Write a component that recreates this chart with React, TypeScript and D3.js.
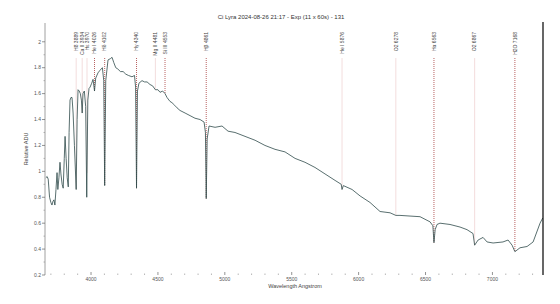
import React from "react";
import * as d3 from "d3";

const title = "Ci Lyra  2024-08-26 21:17  -  Exp (11 x 60s)  -  131";
const xAxisLabel = "Wavelength Angstrom";
const yAxisLabel = "Relative ADU";

const wavelengths = [
  3662, 3672, 3680, 3690, 3700, 3708, 3716, 3723, 3730, 3738, 3746, 3752, 3760, 3768, 3775, 3784,
  3792, 3800, 3806, 3814, 3822, 3830, 3836, 3843, 3850, 3858, 3866, 3876, 3889, 3896, 3903, 3912,
  3920, 3928, 3934, 3940, 3950, 3960, 3968, 3976, 3985, 3993, 4005, 4015, 4026, 4035, 4052, 4067,
  4085, 4095, 4102, 4110, 4127, 4145, 4157, 4170, 4185, 4200, 4220, 4240, 4260, 4280, 4306, 4325,
  4333, 4340, 4347, 4358, 4381, 4400, 4419, 4441, 4460, 4481, 4500, 4516, 4535, 4553, 4568, 4590,
  4605, 4625, 4643, 4665, 4703, 4740, 4777, 4815, 4845, 4855, 4861, 4868, 4882, 4927, 4979, 5024,
  5076, 5151, 5226, 5300, 5375, 5450, 5525, 5599, 5674, 5749, 5824, 5870, 5876, 5886, 5951, 6011,
  6085, 6160, 6235, 6278, 6309, 6384, 6459, 6534, 6555, 6563, 6572, 6586, 6608, 6683, 6758, 6810,
  6855, 6867, 6893, 6930, 6960, 7005, 7079, 7117, 7147, 7168, 7206, 7259, 7304, 7356, 7376,
];
const flux = [
  0.95, 0.96, 0.94, 0.8, 0.76, 0.74, 0.77, 0.78, 0.74, 0.86, 0.99, 0.86, 0.95, 1.07, 0.98, 0.9,
  0.87, 1.1, 1.27, 1.1, 0.95, 0.88, 1.3, 1.55, 1.57, 1.57, 1.45, 1.2, 0.86, 1.4, 1.63, 1.62,
  1.6, 1.55, 1.45, 1.6, 1.62, 1.5, 0.8, 1.55, 1.64, 1.65, 1.68, 1.71, 1.62, 1.72, 1.76, 1.78,
  1.8, 1.7, 0.89, 1.7, 1.86, 1.87, 1.88, 1.84, 1.8, 1.79, 1.77, 1.77, 1.75, 1.74, 1.73, 1.74,
  1.65, 0.87, 1.62, 1.68, 1.7, 1.69, 1.69, 1.67, 1.66, 1.63, 1.63, 1.61, 1.62, 1.6, 1.57, 1.54,
  1.53, 1.51, 1.49, 1.47, 1.45, 1.43, 1.41, 1.4, 1.38, 1.3, 0.79, 1.25, 1.35, 1.34, 1.35, 1.31,
  1.3, 1.27, 1.24, 1.2, 1.17, 1.15, 1.1, 1.07, 1.03, 0.98, 0.93, 0.9, 0.86, 0.89, 0.86, 0.81,
  0.76, 0.69, 0.68, 0.66, 0.66, 0.655, 0.65, 0.61, 0.58, 0.45, 0.55, 0.59, 0.6, 0.59, 0.57, 0.55,
  0.52, 0.43, 0.47, 0.49, 0.455, 0.447, 0.455, 0.47, 0.43, 0.38, 0.41, 0.42, 0.455, 0.6, 0.64,
];

const lineWavelengths = [3889, 3934, 3970, 4026, 4102, 4340, 4481, 4553, 4861, 5876, 6278, 6563, 6867, 7168];
const lineLabels = [
  "H8 3889", "Ca II 3934", "Hε 3970", "He I 4026", "Hδ 4102", "Hγ 4340", "Mg II 4481",
  "Si III 4553", "Hβ 4861", "He I 5876", "O2 6278", "Hα 6563", "O2 6867", "H2O 7168",
];
const lineIdentified = [false, false, false, true, true, true, false, true, true, false, false, true, false, true];

const xMajorTicks = [4000, 4500, 5000, 5500, 6000, 6500, 7000];
const yMajorTicks = [0.2, 0.4, 0.6, 0.8, 1, 1.2, 1.4, 1.6, 1.8, 2];

const W = 560;
const H = 304;
const left = 45;
const right = 543;
const top = 23;
const bottom = 275;
const font = "'Liberation Sans', Arial, sans-serif";

export default function App() {
  const x = d3.scaleLinear().domain([3656, 7378]).range([left, right]);
  const y = d3.scaleLinear().domain([0.2, 2.145]).range([bottom, top]);
  const pts: [number, number][] = wavelengths.map((w, i) => [w, flux[i]]);
  const line = d3
    .line<[number, number]>()
    .x((d) => x(d[0]))
    .y((d) => y(d[1]));
  const interp = (w: number) => {
    const i = d3.bisector((d: number) => d).left(wavelengths, w);
    if (i <= 0) return flux[0];
    if (i >= wavelengths.length) return flux[flux.length - 1];
    const w0 = wavelengths[i - 1];
    const w1 = wavelengths[i];
    const t = (w - w0) / (w1 - w0);
    return flux[i - 1] + t * (flux[i] - flux[i - 1]);
  };
  const xMinor = d3.range(3700, 7400, 100).filter((v) => v % 500 !== 0);
  const yMinor = d3.range(0.3, 2.1, 0.2).map((v) => Math.round(v * 10) / 10);
  const fmt = (v: number) => (Number.isInteger(v) ? String(v) : String(Math.round(v * 10) / 10));

  return (
    <svg width={W} height={H} style={{ position: "absolute", left: 0, top: 0, background: "#fff" }}>
      <text x={281} y={19} fontSize={6} fontFamily={font} textAnchor="middle" fill="#333">
        {title}
      </text>

      {/* spectral line markers */}
      {lineWavelengths.map((w, i) => {
        const lx = x(w);
        const yEnd = y(interp(w));
        return (
          <g key={"ln" + i}>
            <line
              x1={lx}
              x2={lx}
              y1={58}
              y2={yEnd}
              stroke={lineIdentified[i] ? "#b05050" : "#f0d4d4"}
              strokeWidth={lineIdentified[i] ? 0.9 : 0.8}
              strokeDasharray={lineIdentified[i] ? "1,1" : undefined}
            />
            <text
              transform={`translate(${lx + 1.8},32) rotate(-90)`}
              fontSize={5}
              fontFamily={font}
              textAnchor="end"
              fill="#444"
            >
              {lineLabels[i]}
            </text>
          </g>
        );
      })}

      {/* spectrum */}
      <path d={line(pts) || ""} fill="none" stroke="#2f4a4a" strokeWidth={0.8} />

      {/* y axis */}
      <line x1={left} x2={left} y1={top} y2={bottom} stroke="#888" strokeWidth={0.8} />
      {yMajorTicks.map((v) => (
        <g key={"yt" + v}>
          <line x1={left - 3} x2={left} y1={y(v)} y2={y(v)} stroke="#666" strokeWidth={0.7} />
          <text x={left - 4} y={y(v) + 1.8} fontSize={5} fontFamily={font} textAnchor="end" fill="#555">
            {fmt(v)}
          </text>
        </g>
      ))}
      {yMinor.map((v) => (
        <line key={"ym" + v} x1={left - 1.5} x2={left} y1={y(v)} y2={y(v)} stroke="#888" strokeWidth={0.6} />
      ))}
      <text
        transform={`translate(28,${(top + bottom) / 2}) rotate(-90)`}
        fontSize={5.5}
        fontFamily={font}
        textAnchor="middle"
        fill="#444"
      >
        {yAxisLabel}
      </text>

      {/* x axis */}
      {xMajorTicks.map((v) => (
        <g key={"xt" + v}>
          <line x1={x(v)} x2={x(v)} y1={bottom - 3} y2={bottom} stroke="#666" strokeWidth={0.7} />
          <text x={x(v)} y={bottom + 6} fontSize={5} fontFamily={font} textAnchor="middle" fill="#555">
            {v}
          </text>
        </g>
      ))}
      {xMinor.map((v) => (
        <line key={"xm" + v} x1={x(v)} x2={x(v)} y1={bottom - 1.5} y2={bottom} stroke="#888" strokeWidth={0.6} />
      ))}
      <text x={295} y={288} fontSize={5.5} fontFamily={font} textAnchor="middle" fill="#444">
        {xAxisLabel}
      </text>

      {/* right frame */}
      <line x1={right} x2={right} y1={top - 1} y2={bottom} stroke="#000" strokeWidth={1.2} />
    </svg>
  );
}
